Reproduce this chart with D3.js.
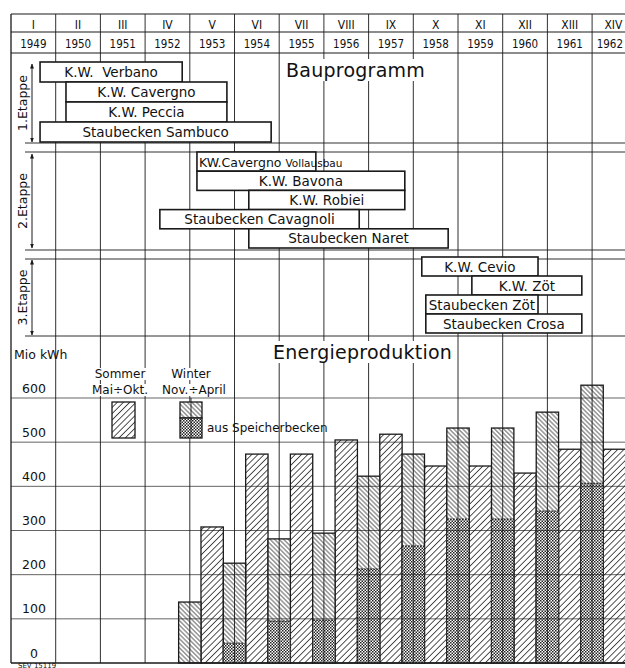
<!DOCTYPE html>
<html>
<head>
<meta charset="utf-8">
<script src="https://cdn.jsdelivr.net/npm/d3@7/dist/d3.min.js"></script>
<style>
body { margin: 0; background: #fff; }
svg text { font-family: "DejaVu Sans", sans-serif; fill: #111; }
svg text.narrow { font-family: "DejaVu Sans Condensed", "DejaVu Sans", sans-serif; font-stretch: condensed; }
</style>
</head>
<body>
<div id="chart"></div>
<script>
const width = 625;
const height = 668;

// columns
const years = [1949, 1950, 1951, 1952, 1953, 1954, 1955, 1956, 1957, 1958, 1959, 1960, 1961, 1962];
const romans = ["I", "II", "III", "IV", "V", "VI", "VII", "VIII", "IX", "X", "XI", "XII", "XIII", "XIV"];

// Bauprogramm
const projectNames = ["K.W.  Verbano", "K.W. Cavergno", "K.W. Peccia", "Staubecken Sambuco",
    "KW.Cavergno Vollausbau", "K.W. Bavona", "K.W. Robiei", "Staubecken Cavagnoli", "Staubecken Naret",
    "K.W. Cevio", "K.W. Zöt", "Staubecken Zöt", "Staubecken Crosa"];
const projectStage = [1, 1, 1, 1, 2, 2, 2, 2, 2, 3, 3, 3, 3];
const projectStart = [1949.65, 1950.23, 1950.23, 1949.65, 1953.16, 1953.16, 1954.32, 1952.33, 1954.32, 1958.19, 1959.31, 1958.28, 1958.28];
const projectEnd = [1952.83, 1953.83, 1953.83, 1954.82, 1955.82, 1957.81, 1957.81, 1956.79, 1958.78, 1960.79, 1961.77, 1960.79, 1961.77];
const stageLabels = ["1.Etappe", "2.Etappe", "3.Etappe"];

// Energieproduktion (Mio kWh)
const summerYears = [1953, 1954, 1955, 1956, 1957, 1958, 1959, 1960, 1961, 1962];
const summerTotal = [308, 473, 473, 505, 518, 446, 446, 430, 484, 484];
const winterSeasons = ["1952/53", "1953/54", "1954/55", "1955/56", "1956/57", "1957/58", "1958/59", "1959/60", "1960/61", "1961/62"];
const winterTotal = [138, 226, 281, 294, 423, 473, 532, 532, 568, 629];
const winterStorage = [0, 45, 95, 97, 213, 265, 326, 326, 344, 407];
const energyTicks = [0, 100, 200, 300, 400, 500, 600];

const left = 11;
const right = 636.8;
const ink = "#1a1a1a";

let svg = d3.select("#chart").append("svg")
    .attr("width", width)
    .attr("height", height);

let defs = svg.append("defs");

function hatch(id, size, angle, sw) {
    let p = defs.append("pattern")
        .attr("id", id)
        .attr("patternUnits", "userSpaceOnUse")
        .attr("width", size)
        .attr("height", size)
        .attr("patternTransform", `rotate(${angle})`);
    p.append("rect").attr("width", size).attr("height", size).attr("fill", "#fff");
    p.append("line")
        .attr("x1", size / 2).attr("y1", 0)
        .attr("x2", size / 2).attr("y2", size)
        .attr("stroke", ink)
        .attr("stroke-width", sw);
}
hatch("summer", 4.4, 45, 0.75);
hatch("winter", 3.2, -45, 0.7);

let chk = defs.append("pattern")
    .attr("id", "storage")
    .attr("patternUnits", "userSpaceOnUse")
    .attr("width", 3)
    .attr("height", 3);
chk.append("rect").attr("width", 3).attr("height", 3).attr("fill", "#fff");
chk.append("rect").attr("width", 1.5).attr("height", 1.5).attr("fill", "#222");
chk.append("rect").attr("x", 1.5).attr("y", 1.5).attr("width", 1.5).attr("height", 1.5).attr("fill", "#222");

defs.append("marker")
    .attr("id", "arrow")
    .attr("viewBox", "0 0 10 10")
    .attr("refX", 9).attr("refY", 5)
    .attr("markerWidth", 5).attr("markerHeight", 7)
    .attr("orient", "auto-start-reverse")
    .attr("markerUnits", "userSpaceOnUse")
    .append("path")
    .attr("d", "M0,1 L10,5 L0,9 Z")
    .attr("fill", ink);

// scales
let xTime = d3.scaleLinear().domain([1949, 1963]).range([left, right]);
let xBand = d3.scaleBand().domain(years).range([left, right]);
let colW = xBand.bandwidth();

let yScale = d3.scaleLinear().domain([0, 600]).range([663, 398]);

const stageBox = {1: [62, 142], 2: [152, 248], 3: [257, 333]};
const stageArrow = {1: [63, 143], 2: [153, 249], 3: [259, 336]};

let rowScales = {};
[1, 2, 3].forEach(s => {
    rowScales[s] = d3.scaleBand()
        .domain(projectNames.filter((n, i) => projectStage[i] === s))
        .range(stageBox[s]);
});

// energy bars
let bars = svg.append("g").attr("stroke", ink).attr("stroke-width", 1.3);

bars.selectAll("rect.summer")
    .data(summerYears)
    .join("rect")
    .attr("class", "summer")
    .attr("x", (d, i) => xTime(d + 0.5) - colW / 4)
    .attr("width", colW / 2)
    .attr("y", (d, i) => yScale(summerTotal[i]))
    .attr("height", (d, i) => yScale(0) - yScale(summerTotal[i]))
    .attr("fill", "url(#summer)");

let wg = bars.selectAll("g.winter")
    .data(winterSeasons)
    .join("g")
    .attr("class", "winter");

wg.append("rect")
    .attr("x", (d, i) => xTime(summerYears[i]) - colW / 4)
    .attr("width", colW / 2)
    .attr("y", (d, i) => yScale(winterTotal[i]))
    .attr("height", (d, i) => yScale(0) - yScale(winterTotal[i]))
    .attr("fill", "url(#winter)");

wg.filter((d, i) => winterStorage[i] > 0)
    .append("rect")
    .attr("x", d => xTime(summerYears[winterSeasons.indexOf(d)]) - colW / 4)
    .attr("width", colW / 2)
    .attr("y", d => yScale(winterStorage[winterSeasons.indexOf(d)]))
    .attr("height", d => yScale(0) - yScale(winterStorage[winterSeasons.indexOf(d)]))
    .attr("fill", "url(#storage)")
    .attr("stroke-width", 1)
    .attr("stroke-dasharray", "2,1");

// grid
let grid = svg.append("g").attr("stroke", ink).attr("stroke-width", 0.9);

grid.selectAll("line.col")
    .data(years)
    .join("line")
    .attr("class", "col")
    .attr("x1", d => xTime(d)).attr("x2", d => xTime(d))
    .attr("y1", 14).attr("y2", 663)
    .attr("stroke-width", (d, i) => i === 0 ? 1.3 : 0.9);

grid.selectAll("line.row")
    .data(energyTicks.slice(1))
    .join("line")
    .attr("class", "row")
    .attr("x1", left).attr("x2", right)
    .attr("y1", d => yScale(d)).attr("y2", d => yScale(d))
    .attr("stroke-width", 0.8)
    .attr("stroke-opacity", 0.85);

grid.append("line").attr("x1", left).attr("x2", right).attr("y1", yScale(0)).attr("y2", yScale(0)).attr("stroke-width", 1.6);
[14, 32, 53].forEach(y => {
    grid.append("line").attr("x1", left).attr("x2", right).attr("y1", y).attr("y2", y).attr("stroke-width", 1.2);
});
[143, 152, 250, 259, 336].forEach(y => {
    grid.append("line").attr("x1", 25).attr("x2", right).attr("y1", y).attr("y2", y);
});

// header (last column is cut by the page edge, keep its labels inside)
function headerRow(labels, y, size) {
    svg.append("g").selectAll("text")
        .data(labels)
        .join("text")
        .attr("class", "narrow")
        .attr("x", (d, i) => xBand(years[i]) + colW / 2)
        .attr("y", y)
        .attr("text-anchor", "middle")
        .style("font-size", size)
        .text(d => d)
        .each(function() {
            let bb = this.getBBox();
            if (bb.x + bb.width > width - 2) {
                d3.select(this).attr("x", +d3.select(this).attr("x") - (bb.x + bb.width - (width - 2)));
            }
        });
}
headerRow(romans, 29, "12px");
headerRow(years, 48, "11.5px");

// stage arrows
let stages = svg.append("g");
[1, 2, 3].forEach(s => {
    let [y0, y1] = stageArrow[s];
    stages.append("line")
        .attr("x1", 32).attr("x2", 32)
        .attr("y1", y0 + 1).attr("y2", y1 - 1)
        .attr("stroke", ink)
        .attr("stroke-width", 1)
        .attr("marker-start", "url(#arrow)")
        .attr("marker-end", "url(#arrow)");
    stages.append("text")
        .attr("transform", `translate(27,${(y0 + y1) / 2}) rotate(-90)`)
        .attr("text-anchor", "middle")
        .style("font-size", "12.5px")
        .text(stageLabels[s - 1]);
});

// project boxes
let boxes = svg.append("g").selectAll("g")
    .data(projectNames)
    .join("g");

boxes.append("rect")
    .attr("x", (d, i) => xTime(projectStart[i]))
    .attr("width", (d, i) => xTime(projectEnd[i]) - xTime(projectStart[i]))
    .attr("y", (d, i) => rowScales[projectStage[i]](d))
    .attr("height", (d, i) => rowScales[projectStage[i]].bandwidth())
    .attr("fill", "#fff")
    .attr("stroke", ink)
    .attr("stroke-width", 1.6);

boxes.filter(d => d !== "KW.Cavergno Vollausbau")
    .append("text")
    .attr("x", d => {
        let i = projectNames.indexOf(d);
        return (xTime(projectStart[i]) + xTime(projectEnd[i])) / 2;
    })
    .attr("y", d => {
        let i = projectNames.indexOf(d);
        return rowScales[projectStage[i]](d) + rowScales[projectStage[i]].bandwidth() / 2 + 5;
    })
    .attr("text-anchor", "middle")
    .style("font-size", "13.5px")
    .style("white-space", "pre")
    .attr("xml:space", "preserve")
    .text(d => d);

let vb = boxes.filter(d => d === "KW.Cavergno Vollausbau")
    .append("text")
    .attr("x", d => xTime(projectStart[projectNames.indexOf(d)]) + 2)
    .attr("y", d => rowScales[2](d) + rowScales[2].bandwidth() / 2 + 5);
vb.append("tspan").style("font-size", "12.5px").text("KW.Cavergno ");
vb.append("tspan").style("font-size", "10.5px").text("Vollausbau");

// titles with white backing
function title(txt, x, y) {
    let g = svg.append("g");
    let t = g.append("text")
        .attr("x", x).attr("y", y)
        .style("font-size", "19px")
        .style("letter-spacing", "0.25px")
        .text(txt);
    let bb = t.node().getBBox();
    g.insert("rect", "text")
        .attr("x", bb.x - 3).attr("y", bb.y)
        .attr("width", bb.width + 6).attr("height", bb.height)
        .attr("fill", "#fff");
}
title("Bauprogramm", 286, 77);
title("Energieproduktion", 273, 359);

// y axis
let yAxis = svg.append("g")
    .call(d3.axisLeft(yScale).tickValues(energyTicks).tickSize(0))
    .attr("font-family", null)
    .attr("font-size", null);
yAxis.select(".domain").remove();
yAxis.selectAll("text")
    .attr("x", 34)
    .attr("dy", -6)
    .attr("text-anchor", "middle")
    .attr("fill", "#111")
    .style("font-size", "12.5px");

svg.append("text")
    .attr("x", 14).attr("y", 359)
    .style("font-size", "12.5px")
    .text("Mio kWh");

// legend
let legend = svg.append("g");
[["Sommer", 120, 378], ["Mai÷Okt.", 120, 394], ["Winter", 191, 378], ["Nov.÷April", 194, 394]].forEach(([t, x, y]) => {
    let tx = legend.append("text")
        .attr("x", x).attr("y", y)
        .attr("text-anchor", "middle")
        .style("font-size", "12px")
        .text(t);
    let bb = tx.node().getBBox();
    legend.insert("rect", "text")
        .attr("x", bb.x - 1).attr("y", bb.y + 1)
        .attr("width", bb.width + 2).attr("height", bb.height - 2)
        .attr("fill", "#fff");
});
legend.append("rect")
    .attr("x", 112).attr("y", 402).attr("width", 23).attr("height", 36)
    .attr("fill", "url(#summer)").attr("stroke", ink).attr("stroke-width", 1.3);
legend.append("rect")
    .attr("x", 180).attr("y", 402).attr("width", 22).attr("height", 16)
    .attr("fill", "url(#winter)").attr("stroke", ink).attr("stroke-width", 1.3);
legend.append("rect")
    .attr("x", 180).attr("y", 418).attr("width", 22).attr("height", 20)
    .attr("fill", "url(#storage)").attr("stroke", ink).attr("stroke-width", 1.3);
legend.append("line")
    .attr("x1", 191).attr("x2", 191).attr("y1", 398).attr("y2", 438)
    .attr("stroke", ink).attr("stroke-width", 0.9);
legend.append("text")
    .attr("x", 207).attr("y", 432)
    .style("font-size", "12px")
    .text("aus Speicherbecken");

svg.append("text")
    .attr("x", 18).attr("y", 667.5)
    .style("font-size", "7px")
    .text("SEV 15119");
</script>
</body>
</html>
